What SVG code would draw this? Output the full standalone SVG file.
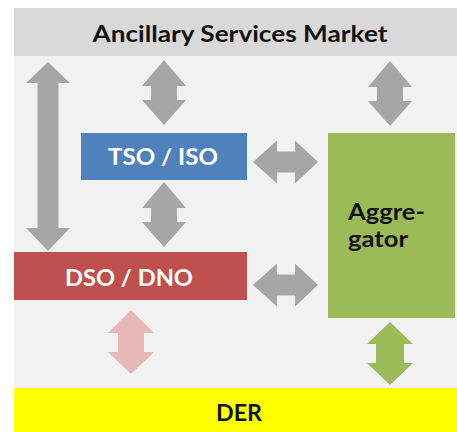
<svg xmlns="http://www.w3.org/2000/svg" width="457" height="432" viewBox="0 0 457 432">
  <style>
    .lbl { font-family: Lato, "Open Sans", "Liberation Sans", sans-serif; font-weight: bold; font-size: 22px; }
    .dark { fill: #111111; }
    .light { fill: #ffffff; }
    .gray { fill: #a6a6a6; }
    .pink { fill: #e6b9b8; }
    .green { fill: #9bbb59; }
  </style>
  <!-- canvas -->
  <rect x="0" y="0" width="457" height="432" fill="#ffffff"/>
  <rect x="14" y="56" width="443" height="332" fill="#f2f2f2"/>

  <g id="market">
    <rect x="14" y="8" width="443" height="48" fill="#d9d9d9"/>
    <text class="lbl dark" x="240" y="42" text-anchor="middle" textLength="295" lengthAdjust="spacingAndGlyphs">Ancillary Services Market</text>
  </g>

  <g id="tso">
    <rect x="81" y="133" width="166" height="47" fill="#4f81bd"/>
    <text class="lbl light" x="163" y="165" text-anchor="middle" textLength="110" lengthAdjust="spacingAndGlyphs">TSO / ISO</text>
  </g>

  <g id="dso">
    <rect x="14" y="252" width="233" height="48" fill="#c0504d"/>
    <text class="lbl light" x="129" y="286" text-anchor="middle" textLength="128" lengthAdjust="spacingAndGlyphs">DSO / DNO</text>
  </g>

  <g id="aggregator">
    <rect x="328" y="133" width="127" height="185" fill="#9bbb59"/>
    <text class="lbl dark" x="348" y="220" textLength="77" lengthAdjust="spacingAndGlyphs">Aggre-</text>
    <text class="lbl dark" x="348" y="247" textLength="60" lengthAdjust="spacingAndGlyphs">gator</text>
  </g>

  <g id="der">
    <rect x="14" y="388" width="443" height="44" fill="#ffff00"/>
    <text class="lbl dark" x="239" y="421" text-anchor="middle" textLength="46" lengthAdjust="spacingAndGlyphs">DER</text>
  </g>

  <g id="connectors">
    <!-- market to DSO (long vertical) -->
    <path class="gray" d="M48,62 L70,83 L58.5,83 L58.5,228 L70,228 L48,251 L26,228 L37.5,228 L37.5,83 L26,83 Z"/>
    <!-- market to TSO -->
    <path class="gray" d="M164,60 L186,86 L177,86 L177,100 L186,100 L164,125 L142,100 L151,100 L151,86 L142,86 Z"/>
    <!-- market to aggregator -->
    <path class="gray" d="M390,61 L412,87 L403,87 L403,101 L412,101 L390,126 L368,101 L377,101 L377,87 L368,87 Z"/>
    <!-- TSO to DSO -->
    <path class="gray" d="M164,182 L186,208 L177,208 L177,222 L186,222 L164,247 L142,222 L151,222 L151,208 L142,208 Z"/>
    <!-- TSO to aggregator -->
    <path class="gray" d="M253,162 L277,140.5 L277,151.5 L295,151.5 L295,140.5 L318,162 L295,183.5 L295,172.5 L277,172.5 L277,183.5 Z"/>
    <!-- DSO to aggregator -->
    <path class="gray" d="M253,285 L277,263.5 L277,274.5 L295,274.5 L295,263.5 L318,285 L295,306.5 L295,295.5 L277,295.5 L277,306.5 Z"/>
    <!-- DSO to DER -->
    <path class="pink" d="M131,310 L154,333 L144,333 L144,352 L154,352 L131,374 L108,352 L118,352 L118,333 L108,333 Z"/>
    <!-- aggregator to DER -->
    <path class="green" d="M390,322 L413,344 L404,344 L404,363 L413,363 L390,385 L367,363 L376,363 L376,344 L367,344 Z"/>
  </g>
</svg>
